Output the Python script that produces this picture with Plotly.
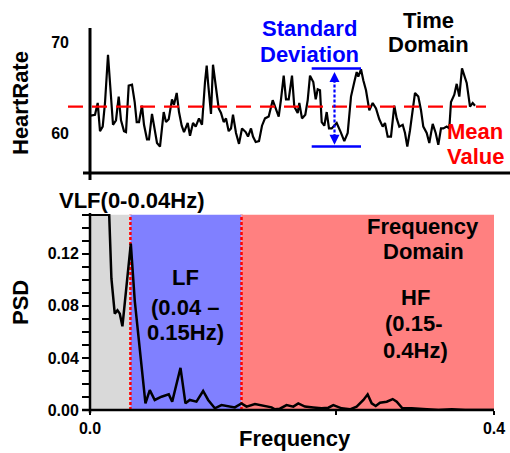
import plotly.graph_objects as go

W, H = 510, 453

# ---------------- data ----------------
time_s = [0.7, 5, 7.7, 10, 12.7, 15, 18, 21, 23, 26,
          28.7, 31, 34, 36, 38.7, 42, 44.7, 46.7, 49, 52,
          54, 57, 59, 62, 64, 67, 70, 73.7, 76, 78.7,
          82, 84, 86.7, 89, 91.7, 94, 97.7, 100, 103, 105.7,
          109, 112, 115, 116.7, 118, 121, 123, 126, 128.7, 131,
          133.7, 136, 138.7, 141, 143, 146, 149, 152, 155.7, 158,
          161, 163, 165.7, 169, 172, 175, 178.7, 182.7, 185.7, 188.7,
          191, 193.7, 196, 198.7, 202, 204.3, 207.7, 209.3, 212, 215.3,
          217.7, 220, 223.3, 225.7, 227.7, 230, 231.7, 234.3, 236.7, 239,
          241.7, 246.7, 250.7, 254.3, 257.7, 261, 264.3, 266.7, 268.3, 271,
          273.3, 276, 279.3, 282.7, 286, 289.3, 292.7, 295, 297.7, 301,
          304.3, 306.7, 309.3, 312.7, 315, 317.3, 320, 322.3, 325, 328.3,
          331, 333.3, 336.7, 339.3, 342.7, 345.7, 348.3, 351, 353.3, 356.7,
          359.3, 361, 364.3, 366.7, 369.3, 372, 374.3, 376.7, 380, 382.7,
          385]
heart_rate = [61.9, 62.0, 63.3, 60.2, 60.7, 63.3, 68.6, 64.0, 60.9, 61.4,
              64.0, 61.4, 60.2, 60.1, 65.2, 65.3, 63.4, 61.2, 61.2, 63.0,
              60.9, 59.3, 59.3, 62.1, 60.9, 58.9, 58.5, 62.3, 61.2, 61.5,
              63.7, 63.1, 64.4, 62.3, 60.8, 60.1, 61.1, 59.7, 61.1, 60.7,
              61.6, 60.9, 65.6, 67.4, 65.6, 62.1, 67.5, 64.7, 62.7, 62.2,
              61.2, 61.6, 60.2, 60.5, 62.0, 60.0, 58.8, 60.5, 60.1, 59.6,
              60.5, 59.6, 59.0, 59.1, 60.8, 61.6, 61.8, 63.6, 62.7, 61.8,
              63.7, 66.3, 63.7, 63.7, 66.3, 62.9, 62.2, 63.3, 61.6, 62.0,
              63.6, 66.3, 65.6, 63.7, 64.8, 64.7, 61.2, 60.8, 62.3, 60.5,
              60.5, 61.1, 60.1, 59.1, 60.0, 64.0, 65.6, 66.7, 66.2, 67.0,
              65.8, 64.7, 62.5, 63.3, 62.7, 61.5, 60.7, 61.1, 59.6, 59.6,
              63.0, 61.6, 60.7, 60.9, 60.0, 58.5, 60.3, 62.3, 64.4, 64.0,
              62.5, 60.7, 60.0, 58.9, 61.0, 60.0, 58.7, 60.5, 60.5, 60.7,
              60.5, 63.4, 64.2, 65.4, 64.0, 67.1, 66.4, 65.5, 62.9, 63.3,
              63.0]

mean_value = 62.9
sd_upper = 67.1
sd_lower = 58.5
sd_time_span = [221.7, 271.0]
sd_arrow_time = 244.5
sd_arrow_tips = [66.7, 58.7]

frequency = [0.0, 0.019, 0.0212, 0.0245, 0.0272, 0.0295, 0.0321, 0.0404, 0.0443, 0.0487,
             0.051, 0.0549, 0.0592, 0.0641, 0.0708, 0.078, 0.0814, 0.0896, 0.0945, 0.0988,
             0.1054, 0.112, 0.117, 0.1236, 0.1302, 0.1369, 0.1434, 0.15, 0.155, 0.1633,
             0.1716, 0.1798, 0.183, 0.188, 0.1946, 0.2013, 0.2062, 0.2128, 0.2211, 0.2293,
             0.236, 0.2409, 0.2492, 0.2574, 0.264, 0.2707, 0.2749, 0.2789, 0.2829, 0.2871,
             0.2938, 0.2997, 0.3037, 0.3093, 0.3185, 0.3317, 0.345, 0.3582, 0.3714, 0.388,
             0.4]
psd = [0.15, 0.15, 0.101, 0.074, 0.0766, 0.074, 0.0643, 0.1277, 0.084, 0.051,
       0.0358, 0.0051, 0.0153, 0.0077, 0.0102, 0.012, 0.0064, 0.0324, 0.0051, 0.0077,
       0.0064, 0.0146, 0.0077, 0.0013, 0.0038, 0.0026, 0.002, 0.0051, 0.0026, 0.0046,
       0.0031, 0.002, 0.0005, 0.001, 0.0038, 0.0026, 0.0051, 0.0026, 0.002, 0.0013,
       0.0018, 0.0038, 0.0013, 0.0005, 0.0026, 0.0077, 0.012, 0.0051, 0.0031, 0.0056,
       0.0064, 0.0084, 0.0064, 0.0013, 0.0013, 0.0005, 0.0, 0.0005, 0.0, 0.0,
       0.0]

band_edges = [0.0, 0.04, 0.15, 0.4]
band_colors = ["#d9d9d9", "#8080ff", "#ff8080"]

hr_tickvals = [60, 70]
psd_tickvals = [0.0, 0.04, 0.08, 0.12]
freq_tickvals = [0.0, 0.2436, 0.4]
freq_ticktext = ["0.0", "", "0.4"]

# ---------------- helpers ----------------
def xp(px):
    return px / W

def yp(py):
    return 1 - py / H

FONT = "Liberation Sans, Arial, sans-serif"

fig = go.Figure()

fig.add_trace(go.Scatter(x=time_s, y=heart_rate, mode="lines",
                         line=dict(color="black", width=2.2),
                         xaxis="x", yaxis="y", hoverinfo="skip"))
fig.add_trace(go.Scatter(x=frequency, y=psd, mode="lines",
                         line=dict(color="black", width=2.5),
                         xaxis="x2", yaxis="y2", hoverinfo="skip"))

shapes = []
# frequency bands
for i, c in enumerate(band_colors):
    shapes.append(dict(type="rect", xref="x2", yref="y2",
                       x0=band_edges[i], x1=band_edges[i + 1], y0=0, y1=0.15,
                       fillcolor=c, line=dict(width=0), layer="below"))
for e in band_edges[1:3]:
    shapes.append(dict(type="line", xref="x2", yref="y2", x0=e, x1=e, y0=0, y1=0.15,
                       line=dict(color="#ff0000", width=2.5, dash="3px,2px"), layer="below"))

# mean line
shapes.append(dict(type="line", xref="paper", yref="y", x0=xp(68), x1=xp(486),
                   y0=mean_value, y1=mean_value,
                   line=dict(color="#ff0000", width=2.2, dash="15px,9px"), layer="above"))
# standard deviation bars
for v in (sd_upper, sd_lower):
    shapes.append(dict(type="line", xref="x", yref="y", x0=sd_time_span[0], x1=sd_time_span[1],
                       y0=v, y1=v, line=dict(color="#0000ff", width=2.5)))
shapes.append(dict(type="line", xref="x", yref="y", x0=sd_arrow_time, x1=sd_arrow_time,
                   y0=sd_arrow_tips[1] + 0.8, y1=sd_arrow_tips[0] - 0.8,
                   line=dict(color="#0000ff", width=2.2, dash="3px,2px")))

# axis lines
shapes += [
    dict(type="line", xref="paper", yref="paper", x0=xp(83), x1=xp(510), y0=yp(173), y1=yp(173),
         line=dict(color="black", width=3), layer="above"),
    dict(type="line", xref="paper", yref="paper", x0=xp(90), x1=xp(90), y0=yp(180), y1=yp(28),
         line=dict(color="black", width=3), layer="above"),
    dict(type="line", xref="paper", yref="paper", x0=xp(82), x1=xp(494), y0=yp(410), y1=yp(410),
         line=dict(color="black", width=2.5), layer="above"),
    dict(type="line", xref="paper", yref="paper", x0=xp(90), x1=xp(90), y0=yp(413), y1=yp(213),
         line=dict(color="black", width=2.5), layer="above"),
]

annotations = []

def txt(text, px, py, color="black", size=22, angle=0):
    annotations.append(dict(text=f"<b>{text}</b>", x=xp(px), y=yp(py), xref="paper", yref="paper",
                            xanchor="center", yanchor="middle", showarrow=False, textangle=angle,
                            font=dict(family=FONT, size=size, color=color)))

txt("Standard", 309, 28.5, "#0000ff")
txt("Deviation", 309, 55, "#0000ff")
txt("Time", 428, 20)
txt("Domain", 428, 45)
txt("Mean", 475, 131.5, "#ff0000")
txt("Value", 475, 156.5, "#ff0000")
txt("HeartRate", 20, 103, angle=-90)
txt("PSD", 20, 303, angle=-90)
txt("Frequency", 295, 438)
txt("VLF(0-0.04Hz)", 131, 200)
txt("LF", 185, 277)
txt("(0.04 \u2013", 185, 307)
txt("0.15Hz)", 185, 332)
txt("HF", 415, 297)
txt("(0.15-", 413, 323)
txt("0.4Hz)", 415, 350)
txt("Frequency", 423, 226)
txt("Domain", 423, 251)

# arrow heads for SD
for tip, ay in ((sd_arrow_tips[0], 12), (sd_arrow_tips[1], -12)):
    annotations.append(dict(x=sd_arrow_time, y=tip, xref="x", yref="y", text="",
                            showarrow=True, arrowhead=2, arrowsize=1, arrowwidth=2,
                            arrowcolor="#0000ff", ax=0, ay=ay, standoff=0))

tickfont = dict(family=FONT, size=16, color="black", weight="bold")

fig.update_layout(
    width=W, height=H,
    margin=dict(l=0, r=0, t=0, b=0, pad=0),
    paper_bgcolor="white", plot_bgcolor="white",
    showlegend=False,
    shapes=shapes, annotations=annotations,
    xaxis=dict(domain=[xp(90), 1.0], range=[0, 420], showticklabels=False, ticks="",
               showgrid=False, zeroline=False, showline=False, anchor="y", automargin=False),
    yaxis=dict(domain=[yp(173), yp(28)], range=[55.6, 71.54], tickvals=hr_tickvals,
               ticks="", showgrid=False, zeroline=False, showline=False,
               tickfont=tickfont, ticklabelstandoff=20, anchor="x", automargin=False),
    xaxis2=dict(domain=[xp(90), xp(494)], range=[0, 0.4], tickvals=freq_tickvals,
                ticktext=freq_ticktext, ticks="outside", ticklen=4, tickwidth=2,
                tickcolor="black", showgrid=False, zeroline=False, showline=False,
                tickfont=tickfont, anchor="y2", automargin=False),
    yaxis2=dict(domain=[yp(410), yp(214)], range=[0, 0.1505], tickvals=psd_tickvals,
                tickformat=".2f", ticks="outside", ticklen=7, tickwidth=2, tickcolor="black",
                minor=dict(dtick=0.01, tick0=0, ticks="outside", ticklen=7, tickwidth=2,
                           tickcolor="black", showgrid=False),
                showgrid=False, zeroline=False, showline=False,
                tickfont=tickfont, anchor="x2", automargin=False),
)

fig.write_html("out.html", config={"displayModeBar": False},
               post_script="document.body.style.margin='0px';document.body.style.overflow='hidden';")
